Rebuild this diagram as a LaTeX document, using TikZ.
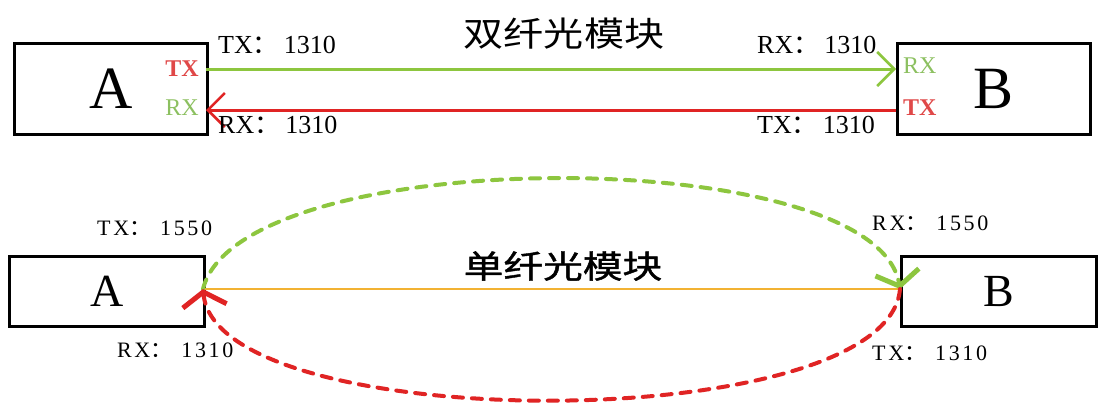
\documentclass[tikz,border=0pt]{standalone}
\usepackage{fontspec}
\setmainfont{Liberation Serif}
\newfontfamily\cjk{Noto Sans CJK SC}
\newfontfamily\cjkb[FakeBold=1.2]{Noto Sans CJK SC}
\newfontfamily\spc[LetterSpace=12]{Liberation Serif}
\usetikzlibrary{arrows.meta}
\definecolor{fgreen}{HTML}{8DC63F}
\definecolor{fred}{HTML}{E02424}
\definecolor{tred}{HTML}{E04848}
\definecolor{tgreen}{HTML}{8CC060}
\definecolor{fyellow}{HTML}{F2B233}
\begin{document}
\begin{tikzpicture}[x=1pt,y=-1pt,
  box/.style={draw, line width=3pt, inner sep=0, anchor=north west},
  lbl/.style={anchor=west, inner sep=0, font=\fontsize{26}{26}\selectfont},
  lbls/.style={anchor=west, inner sep=0, font=\spc\fontsize{22}{22}\selectfont},
  port/.style={anchor=east, inner sep=0, font=\fontsize{24}{24}\selectfont},
  title/.style={inner sep=0, font=\cjk\fontsize{34}{34}\selectfont},
  fibre/.style={line width=3pt},
  dfibre/.style={line width=4pt, dash pattern=on 10pt off 9pt, line cap=round},
  topbarb/.style={-{Straight Barb[length=17pt,width=34pt,line width=2.5pt]}},
  botbarb/.style={-{Straight Barb[length=14pt,width=44pt,line width=5pt]}}
]
\useasboundingbox[fill=white] (0,0) rectangle (1120,416);

% ---------- dual fibre ----------
\node[title] (t1) at (564,34) {\scalebox{1.18}[1]{双纤光模块}};
\node[box, minimum width=193pt, minimum height=91pt, font=\fontsize{60}{60}\selectfont] (A1) at (13,42) {A};
\node[box, minimum width=193pt, minimum height=91pt, font=\fontsize{60}{60}\selectfont] (B1) at (896,42) {B};
\node[port, text=tred, font=\bfseries\fontsize{24}{24}\selectfont] (atx) at (199,69) {TX};
\node[port, text=tgreen] (arx) at (199,108) {RX};
\node[port, anchor=west, text=tgreen] (brx) at (903,66) {RX};
\node[port, anchor=west, text=tred, font=\bfseries\fontsize{24}{24}\selectfont] (btx) at (903,108) {TX};
\coordinate (a1o) at (206,69);
\coordinate (b1i) at (896,69);
\coordinate (b1o) at (896,110);
\coordinate (a1i) at (206,110);
\draw[fibre, fgreen, topbarb] (a1o) -- (b1i);
\draw[fibre, fred, topbarb] (b1o) -- (a1i);
\node[lbl] (l1) at (218,45) {TX{\cjk ：}\hspace{5pt}1310};
\node[lbl] (l2) at (218,125) {RX{\cjk ：}\hspace{5pt}1310};
\node[lbl] (l3) at (757,45) {RX{\cjk ：}\hspace{5pt}1310};
\node[lbl] (l4) at (757,125) {TX{\cjk ：}\hspace{5pt}1310};

% ---------- single fibre ----------
\node[title, font=\cjkb\fontsize{32}{32}\selectfont] (t2) at (563,266) {\scalebox{1.24}[1]{单纤光模块}};
\node[box, minimum width=195pt, minimum height=70pt, font=\fontsize{46}{46}\selectfont] (A2) at (8,255) {A};
\node[box, minimum width=195pt, minimum height=70pt, font=\fontsize{46}{46}\selectfont] (B2) at (900,255) {B};
\coordinate (a2) at (203,289);
\coordinate (b2) at (900,289);
\draw[line width=2pt, fyellow] (a2) -- (b2);
\draw[dfibre, fgreen, botbarb] (a2) .. controls (240,142) and (875,142) .. (b2);
\draw[dfibre, fred, botbarb] (b2) .. controls (888,437) and (218,437) .. (a2);
\node[lbls] (l5) at (97,228) {TX{\cjk ：}\hspace{9pt}1550};
\node[lbls] (l6) at (117,350) {RX{\cjk ：}\hspace{9pt}1310};
\node[lbls] (l7) at (872,223) {RX{\cjk ：}\hspace{9pt}1550};
\node[lbls] (l8) at (872,353) {TX{\cjk ：}\hspace{9pt}1310};
\end{tikzpicture}
\end{document}
